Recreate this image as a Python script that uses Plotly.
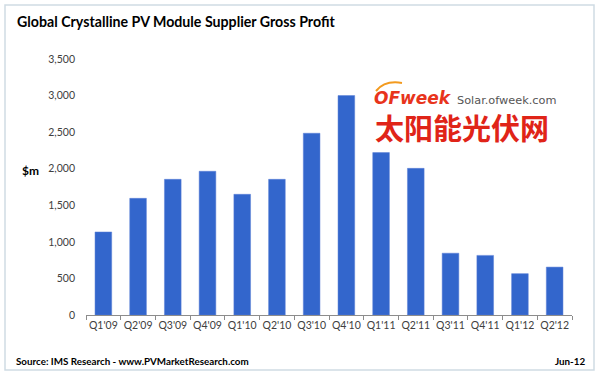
import plotly.graph_objects as go

quarters = ["Q1'09", "Q2'09", "Q3'09", "Q4'09", "Q1'10", "Q2'10", "Q3'10",
            "Q4'10", "Q1'11", "Q2'11", "Q3'11", "Q4'11", "Q1'12", "Q2'12"]
gross_profit = [1135, 1595, 1855, 1965, 1650, 1855, 2485,
                3000, 2220, 2005, 845, 815, 565, 655]
y_ticks = [0, 500, 1000, 1500, 2000, 2500, 3000, 3500]
y_tick_labels = ["0", "500", "1,000", "1,500", "2,000", "2,500", "3,000", "3,500"]

W, H = 600, 375
L, R, T, B = 86, 28, 59, 60

fig = go.Figure()
fig.add_trace(go.Bar(
    x=quarters, y=gross_profit,
    marker=dict(color="#3366cc", line=dict(color="#5b7fd6", width=0.5)),
    width=0.48,
))

font_main = "Lato, 'Open Sans', Arial, sans-serif"

fig.update_layout(
    width=W, height=H,
    margin=dict(l=L, r=R, t=T, b=B, autoexpand=False),
    paper_bgcolor="white", plot_bgcolor="white",
    showlegend=False,
    font=dict(family=font_main, color="#404040", size=10),
    xaxis=dict(
        type="category",
        showline=True, linecolor="#8c8c8c", linewidth=1,
        ticks="outside", tickson="boundaries", ticklen=4, tickcolor="#8c8c8c",
        tickfont=dict(size=10.5, color="#404040"), tickangle=0,
        showgrid=False, zeroline=False, automargin=False,
    ),
    yaxis=dict(
        range=[0, 3500],
        tickvals=y_ticks, ticktext=y_tick_labels,
        showline=False, showgrid=False, zeroline=False,
        ticks="", ticklabelstandoff=10, automargin=False,
        tickfont=dict(size=10.5, color="#404040"),
    ),
)

def px(x):
    return (x - L) / (W - L - R)

def py(y):
    return (H - B - y) / (H - T - B)

# outer frame
fig.add_shape(type="rect", xref="paper", yref="paper",
              x0=px(5), x1=px(594), y0=py(370), y1=py(5),
              line=dict(color="#cfdbe4", width=1.5), layer="above")

annotations = [
    dict(text="<b>Global Crystalline PV Module Supplier Gross Profit</b>",
         x=px(15), y=py(21), xanchor="left", yanchor="middle",
         font=dict(size=14.2, color="#000000")),
    dict(text="<b>$m</b>", x=px(20), y=py(170), xanchor="left", yanchor="middle",
         font=dict(size=12, color="#000000")),
    dict(text="<b>Source: IMS Research - www.PVMarketResearch.com</b>",
         x=px(14), y=py(361), xanchor="left", yanchor="middle",
         font=dict(size=9.8, color="#000000")),
    dict(text="<b>Jun-12</b>", x=px(587), y=py(361), xanchor="right", yanchor="middle",
         font=dict(size=9.8, color="#000000")),
    dict(text="<b><i>OFweek</i></b>", x=px(372), y=py(98), xanchor="left", yanchor="middle",
         font=dict(size=17, color="#e8341c", family="'DejaVu Sans', sans-serif")),
    dict(text="Solar.ofweek.com", x=px(455), y=py(100), xanchor="left", yanchor="middle",
         font=dict(size=11.3, color="#555555", family="'DejaVu Sans', sans-serif")),
    dict(text="<b>太阳能光伏网</b>", x=px(373), y=py(127), xanchor="left", yanchor="middle",
         font=dict(size=29, color="#e02418", family="'Noto Sans CJK SC', sans-serif")),
]
for a in annotations:
    a.update(xref="paper", yref="paper", showarrow=False)
fig.update_layout(annotations=annotations)

# small orange arc above the OFweek logo
fig.add_shape(type="path", xref="paper", yref="paper",
              path=f"M {px(376)},{py(91)} Q {px(385)},{py(80)} {px(402)},{py(83)}",
              line=dict(color="#f39a1e", width=2))

fig.write_html("out.html", config={"displayModeBar": False},
               post_script="document.body.style.margin='0';document.body.style.overflow='hidden';")
